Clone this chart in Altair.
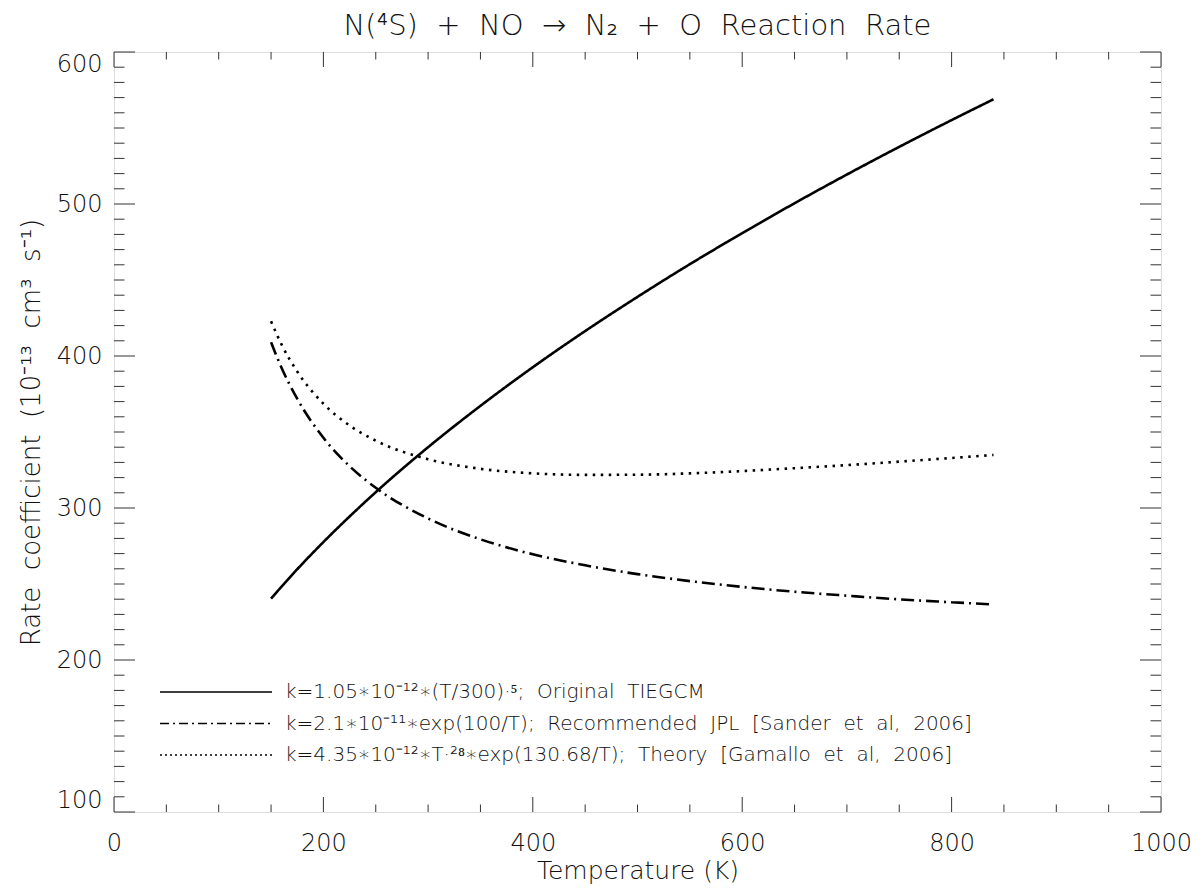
import altair as alt
import pandas as pd

FONT = "DejaVu Sans"

# ---- data ----
temperature = [150, 160, 175, 200, 225, 250, 300, 350, 400, 450, 500, 550, 600, 650, 700, 750, 800, 840]
tiegcm = [240.4, 248.3, 259.7, 277.6, 294.4, 310.4, 340.0, 367.2, 392.6, 416.4, 438.9, 460.4, 480.8,
          500.5, 519.4, 537.6, 555.2, 568.9]
jpl = [409.0, 392.3, 371.9, 346.2, 327.5, 313.3, 293.1, 279.4, 269.6, 262.3, 256.5, 251.9, 248.1,
       244.9, 242.3, 239.9, 238.0, 236.5]
theory = [422.8, 407.6, 389.8, 368.6, 354.3, 344.3, 332.1, 325.8, 322.8, 321.8, 321.9, 322.8, 324.3,
          326.2, 328.2, 330.5, 332.9, 334.9]

series_names = ["tiegcm", "jpl", "theory"]
WS = " \u00a0"  # wide word gap as in the reference's typeface
legend_words = [
    ["k=1.05∗10⁻¹²∗(T/300)·⁵;", "Original", "TIEGCM"],
    ["k=2.1∗10⁻¹¹∗exp(100/T);", "Recommended", "JPL", "[Sander", "et", "al,", "2006]"],
    ["k=4.35∗10⁻¹²∗T·²⁸∗exp(130.68/T);", "Theory", "[Gamallo", "et", "al,", "2006]"],
]
legend_labels = [WS.join(w) for w in legend_words]

x_major = [0, 200, 400, 600, 800, 1000]
x_minor = [50, 100, 150, 250, 300, 350, 450, 500, 550, 650, 700, 750, 850, 900, 950]
y_major = [100, 200, 300, 400, 500, 600]
y_minor = [v for v in range(110, 600, 10) if v % 100 != 0]

title_text = WS.join(["N(⁴S)", "+", "NO", "→", "N₂", "+", "O", "Reaction", "Rate"])
x_title = "Temperature (K)"
y_title = WS.join(["Rate", "coefficient", "(10⁻¹³", "cm³", "s⁻¹)"])

# ---- styles ----
W, H = 1047, 760
dashes = [[1, 0], [13, 5, 2, 5], [2.5, 5.5]]
legend_dashes = [[1, 0], [9, 4, 2, 4], [2, 3]]
frame_color = "#333333"
text_color = "#111111"
LIGHT = 200

rows = []
for name, vals in zip(series_names, [tiegcm, jpl, theory]):
    for t, v in zip(temperature, vals):
        rows.append({"T": t, "value": v, "series": name})
df = pd.DataFrame(rows)

xs = alt.Scale(domain=[0, 1000], nice=False, zero=False)
ys = alt.Scale(domain=[100, 600], nice=False, zero=False)

xaxis = alt.Axis(values=x_major, ticks=False, domain=False, grid=False, format="d",
                 labelFontSize=24, labelFont=FONT, labelColor=text_color, labelPadding=19,
                 labelFlush=False, labelFontWeight=LIGHT,
                 title=x_title, titleFont=FONT, titleFontSize=25, titleFontWeight=LIGHT,
                 titleColor=text_color, titlePadding=3)
yaxis = alt.Axis(values=y_major, ticks=False, domain=False, grid=False, format="d",
                 labelFontSize=24, labelFont=FONT, labelColor=text_color, labelPadding=12,
                 labelFlush=True, labelFontWeight=LIGHT,
                 title=y_title, titleFont=FONT, titleFontSize=26, titleFontWeight=LIGHT,
                 titleColor=text_color, titlePadding=12)

lines = alt.Chart(df).mark_line(color="black", strokeWidth=2.6, interpolate="monotone").encode(
    x=alt.X("T:Q", scale=xs, axis=xaxis),
    y=alt.Y("value:Q", scale=ys, axis=yaxis),
    strokeDash=alt.StrokeDash("series:N", scale=alt.Scale(domain=series_names, range=dashes), legend=None),
)

layers = [lines]

def xticks(vals, y0, y1):
    d = pd.DataFrame({"T": vals})
    return alt.Chart(d).mark_rule(color=frame_color, strokeWidth=1).encode(
        x=alt.X("T:Q", scale=xs, axis=xaxis), y=alt.value(y0), y2=alt.value(y1))

def yticks(vals, x0, x1):
    d = pd.DataFrame({"value": vals})
    return alt.Chart(d).mark_rule(color=frame_color, strokeWidth=1).encode(
        y=alt.Y("value:Q", scale=ys, axis=yaxis), x=alt.value(x0), x2=alt.value(x1))

layers += [
    xticks(x_major, H, H - 15), xticks(x_minor, H, H - 7.5),
    xticks(x_major, 0, 15), xticks(x_minor, 0, 7.5),
    yticks(y_major, 0, 21), yticks(y_minor, 0, 10.5),
    yticks(y_major, W, W - 21), yticks(y_minor, W, W - 10.5),
]

# legend drawn inside plot
leg_y0, leg_dy = 640, 31.5
for i, (name, lab) in enumerate(zip(series_names, legend_labels)):
    d = pd.DataFrame({"series": [name], "label": [lab]})
    yy = leg_y0 + i * leg_dy
    layers.append(alt.Chart(d).mark_rule(color="black", strokeWidth=1.3).encode(
        x=alt.value(46), x2=alt.value(158), y=alt.value(yy), strokeDash=alt.value(legend_dashes[i])))
    layers.append(alt.Chart(d).mark_text(align="left", baseline="middle", fontSize=20, font=FONT,
                                         fontWeight=LIGHT, color=text_color).encode(
        x=alt.value(171), y=alt.value(yy), text="label:N"))

chart = alt.layer(*layers).properties(
    width=W, height=H,
    title=alt.TitleParams(title_text, font=FONT, fontSize=29, fontWeight=LIGHT, color=text_color,
                          anchor="middle", offset=11),
    autosize=alt.AutoSizeParams(type="none"),
    padding={"left": 106, "top": 44, "right": 30, "bottom": 73},
).configure_view(stroke=frame_color, strokeWidth=1.2).configure(background="white")

chart.save("out.html", embed_options={"renderer": "svg", "actions": False})
